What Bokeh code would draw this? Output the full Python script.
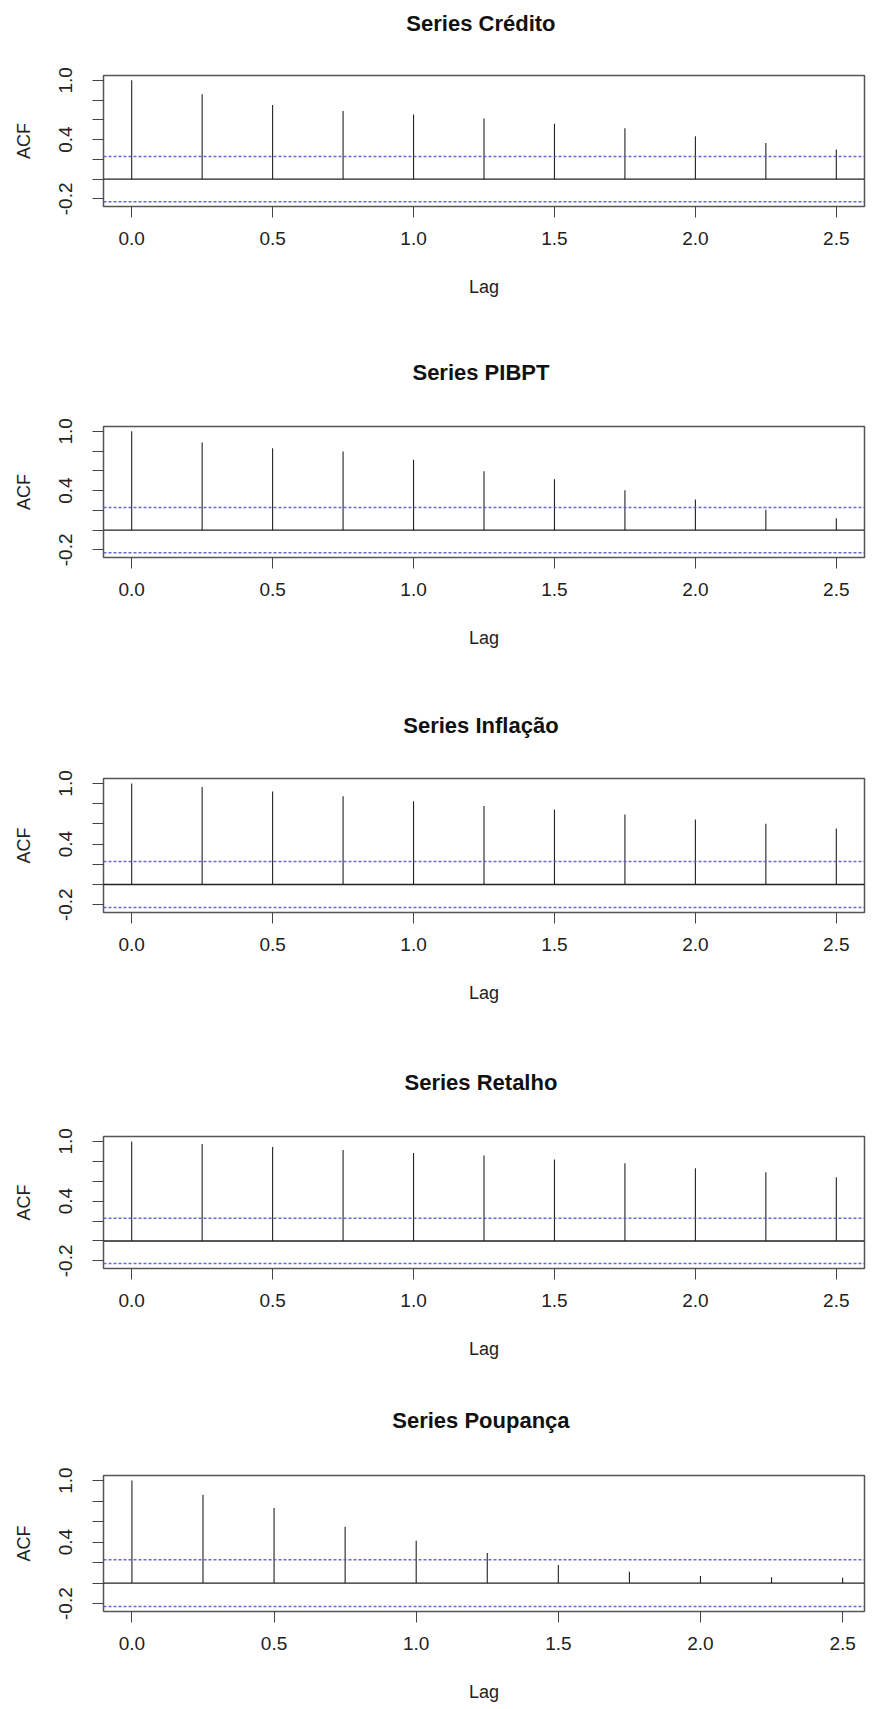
from bokeh.plotting import figure
from bokeh.models import ColumnDataSource, Span, FixedTicker, PrintfTickFormatter, Range1d, LinearAxis
from bokeh.layouts import column
from bokeh.embed import file_html
from bokeh.resources import INLINE

# ---- data ----
lags = [0.0, 0.25, 0.5, 0.75, 1.0, 1.25, 1.5, 1.75, 2.0, 2.25, 2.5]
credito = [1.0, 0.86, 0.75, 0.69, 0.655, 0.615, 0.56, 0.515, 0.435, 0.367, 0.30]
pibpt = [1.0, 0.886, 0.83, 0.795, 0.712, 0.595, 0.515, 0.404, 0.311, 0.207, 0.12]
inflacao = [1.0, 0.966, 0.92, 0.874, 0.825, 0.778, 0.742, 0.693, 0.643, 0.60, 0.554]
retalho = [1.0, 0.973, 0.943, 0.913, 0.883, 0.857, 0.817, 0.78, 0.73, 0.69, 0.64]
poupanca = [1.0, 0.862, 0.733, 0.55, 0.412, 0.293, 0.177, 0.11, 0.068, 0.058, 0.052]
ci_bound = 0.228
series_names = ["Crédito", "PIBPT", "Inflação", "Retalho", "Poupança"]
x_ticks = [0.0, 0.5, 1.0, 1.5, 2.0, 2.5]
y_ticks = [-0.2, 0.0, 0.2, 0.4, 0.6, 0.8, 1.0]
y_labels = {0.0: "", 0.2: "", 0.6: "", 0.8: ""}

FONT = "Liberation Sans"

# layout per panel: height, top border, bottom border, left border, right border, x_end, title standoff
panels = [
    (345, 75, 139, 103, 22, 2.6, 40),
    (355, 81, 143, 103, 22, 2.6, 42),
    (360, 78, 148, 102, 6, 2.6, 41),
    (340, 76, 132, 102, 6, 2.6, 42),
    (309, 75, 98, 97, 0, 2.577, 43),
]
all_series = [credito, pibpt, inflacao, retalho, poupanca]

figs = []
for name, vals, (h, bt, bb, bl, br, xe, ts) in zip(series_names, all_series, panels):
    p = figure(width=886, height=h, output_backend="svg", toolbar_location=None,
               x_range=Range1d(-0.1, xe), y_range=Range1d(-0.277, 1.049),
               min_border_top=bt, min_border_bottom=bb, min_border_left=bl,
               min_border_right=br)
    p.grid.visible = False
    p.outline_line_color = "#555555"
    p.outline_line_width = 1.5
    p.background_fill_color = "white"
    p.border_fill_color = "white"

    # title as the label of an empty axis above the frame
    ta = LinearAxis(ticker=FixedTicker(ticks=[]), axis_line_color=None,
                    major_tick_line_color=None, minor_tick_line_color=None,
                    major_label_text_font_size="0px",
                    axis_label="Series  " + name, axis_label_standoff=ts,
                    axis_label_text_font=FONT, axis_label_text_font_size="22px",
                    axis_label_text_font_style="bold", axis_label_text_color="#111111")
    p.add_layout(ta, "above")

    src = ColumnDataSource(dict(lag=lags, acf=vals, base=[0.0] * len(lags)))
    p.segment(x0="lag", y0="base", x1="lag", y1="acf", source=src,
              line_color="#222222", line_width=1.1)

    p.add_layout(Span(location=0, dimension="width", line_color="#222222", line_width=1.4))
    for loc in (ci_bound, -ci_bound):
        p.add_layout(Span(location=loc, dimension="width", line_color="#5656d4",
                          line_width=1.5, line_dash="3 2", line_alpha=0.9))

    xa = p.below[0]
    xa.ticker = FixedTicker(ticks=x_ticks)
    xa.formatter = PrintfTickFormatter(format="%.1f")
    xa.minor_tick_line_color = None
    xa.axis_line_color = None
    xa.major_tick_in = 0
    xa.major_tick_out = 11
    xa.major_tick_line_color = "#444444"
    xa.major_label_standoff = 14
    xa.major_label_text_font = FONT
    xa.major_label_text_font_size = "19px"
    xa.major_label_text_color = "#222222"
    xa.axis_label = "Lag"
    xa.axis_label_text_font = FONT
    xa.axis_label_text_font_size = "18px"
    xa.axis_label_text_font_style = "normal"
    xa.axis_label_text_color = "#222222"
    xa.axis_label_standoff = 29

    ya = p.left[0]
    ya.ticker = FixedTicker(ticks=y_ticks)
    ya.formatter = PrintfTickFormatter(format="%.1f")
    ya.major_label_overrides = y_labels
    ya.major_label_orientation = "vertical"
    ya.minor_tick_line_color = None
    ya.axis_line_color = None
    ya.major_tick_in = 0
    ya.major_tick_out = 11
    ya.major_tick_line_color = "#444444"
    ya.major_label_standoff = 20
    ya.major_label_text_font = FONT
    ya.major_label_text_font_size = "19px"
    ya.major_label_text_color = "#222222"
    ya.axis_label = "ACF"
    ya.axis_label_text_font = FONT
    ya.axis_label_text_font_size = "18px"
    ya.axis_label_text_font_style = "normal"
    ya.axis_label_text_color = "#222222"
    ya.axis_label_standoff = 23
    figs.append(p)

layout = column(*figs, spacing=0)
open("out.html", "w").write(file_html(layout, INLINE))
